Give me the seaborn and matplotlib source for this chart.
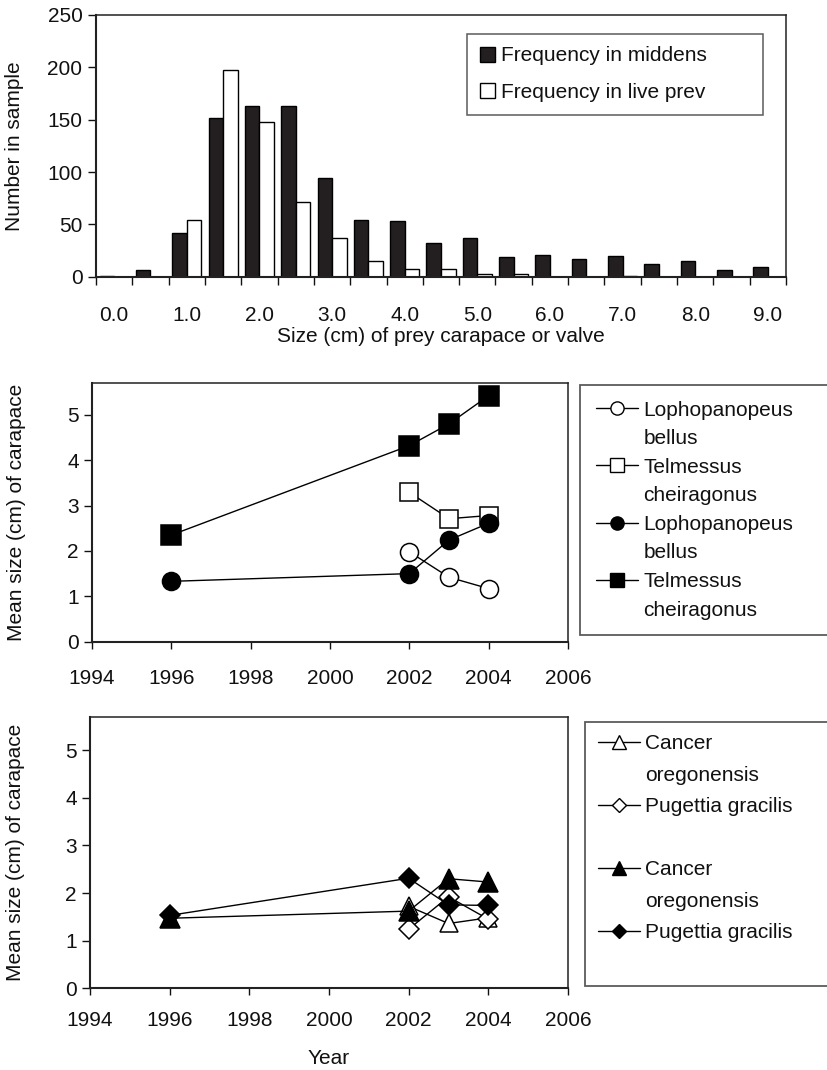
import numpy as np
import pandas as pd
import matplotlib
matplotlib.use("Agg")
import matplotlib.pyplot as plt
from matplotlib.lines import Line2D
from matplotlib.patches import Patch
import seaborn as sns

# ---------------- data ----------------
size_labels = ["0.0", "0.5", "1.0", "1.5", "2.0", "2.5", "3.0", "3.5", "4.0", "4.5",
               "5.0", "5.5", "6.0", "6.5", "7.0", "7.5", "8.0", "8.5", "9.0"]
freq_middens = [1, 6, 42, 152, 163, 163, 94, 54, 53, 32, 37, 19, 21, 17, 20, 12, 15, 6, 9]
freq_live = [0, 0, 54, 197, 148, 71, 37, 15, 7, 7, 3, 3, 0, 0, 1, 0, 0, 0, 0]
bar_series = ["Frequency in middens", "Frequency in live prev"]

# middle panel
lb_open_years = [2002, 2003, 2004]
lb_open = [1.98, 1.42, 1.17]
tc_open_years = [2002, 2003, 2004]
tc_open = [3.29, 2.71, 2.78]
lb_fill_years = [1996, 2002, 2003, 2004]
lb_fill = [1.33, 1.50, 2.24, 2.61]
tc_fill_years = [1996, 2002, 2003, 2004]
tc_fill = [2.35, 4.32, 4.80, 5.42]

# bottom panel
co_open_years = [2002, 2003, 2004]
co_open = [1.72, 1.36, 1.48]
pg_open_years = [2002, 2003, 2004]
pg_open = [1.24, 1.92, 1.45]
co_fill_years = [1996, 2002, 2003, 2004]
co_fill = [1.47, 1.62, 2.30, 2.23]
pg_fill_years = [1996, 2002, 2003, 2004]
pg_fill = [1.53, 2.31, 1.75, 1.74]

year_ticks = [1994, 1996, 1998, 2000, 2002, 2004, 2006]

# ---------------- style ----------------
sns.set_style("ticks")
plt.rcParams["font.family"] = ["Liberation Sans", "DejaVu Sans"]
plt.rcParams["font.size"] = 15
plt.rcParams["axes.linewidth"] = 1.1
plt.rcParams["xtick.major.width"] = 1.0
plt.rcParams["ytick.major.width"] = 1.0
plt.rcParams["xtick.color"] = "#111111"
plt.rcParams["ytick.color"] = "#111111"
plt.rcParams["text.color"] = "#111111"
plt.rcParams["axes.labelcolor"] = "#111111"

W, H = 827, 1070
fig = plt.figure(figsize=(W / 100, H / 100), dpi=100)

def px_axes(left, right, top, bottom):
    return fig.add_axes([left / W, 1 - bottom / H, (right - left) / W, (bottom - top) / H])

ax1 = px_axes(96, 786, 15, 276.7)
ax2 = px_axes(92, 568, 383, 641.7)
ax3 = px_axes(90, 568, 716.7, 988.3)

for ax in (ax1, ax2, ax3):
    for s in ax.spines.values():
        s.set_visible(True)
        s.set_color("#222222")
        s.set_linewidth(1.1)
    ax.spines["left"].set_linewidth(1.5)
    ax.spines["bottom"].set_linewidth(1.5)

# ---------------- top: histogram bars ----------------
df_bar = pd.DataFrame({
    "size": size_labels * 2,
    "count": freq_middens + freq_live,
    "series": [bar_series[0]] * len(size_labels) + [bar_series[1]] * len(size_labels),
})
bar_colors = {bar_series[0]: "#231f20", bar_series[1]: "white"}
sns.barplot(data=df_bar, x="size", y="count", hue="series", order=size_labels,
            hue_order=bar_series, palette=bar_colors, edgecolor="black",
            linewidth=1.0, width=0.8, saturation=1, ax=ax1, legend=False)
ax1.set_xlim(-0.5, len(size_labels) - 0.5)
ax1.set_ylim(0, 250)
ax1.set_yticks([0, 50, 100, 150, 200, 250])
ax1.set_xticks(np.arange(-0.5, len(size_labels), 1.0))
ax1.set_xticklabels([])
ax1.set_xticks(np.arange(0, len(size_labels), 2), minor=True)
ax1.set_xticklabels(size_labels[::2], minor=True)
ax1.tick_params(axis="x", which="major", direction="out", length=5.8, pad=2)
ax1.tick_params(axis="x", which="minor", length=0, pad=21, labelsize=15)
ax1.tick_params(axis="y", direction="out", length=5.8, pad=4, labelsize=15)
ax1.set_ylabel("Number in sample", fontsize=15)
ax1.yaxis.label.set_va("center")
ax1.yaxis.set_label_coords((15 - 96) / 690, 0.5)
ax1.set_xlabel("Size (cm) of prey carapace or valve", fontsize=15)
ax1.xaxis.label.set_va("center")
ax1.xaxis.set_label_coords(0.5, (276.7 - 336) / 261.7)

bar_handles = [Patch(facecolor="#231f20", edgecolor="black", linewidth=1.0),
               Patch(facecolor="white", edgecolor="black", linewidth=1.0)]
leg1 = ax1.legend(bar_handles, bar_series, loc="upper left", mode="expand",
                  bbox_to_anchor=(467 / W, 1 - 34 / H, (763 - 467) / W, 0.0001),
                  bbox_transform=fig.transFigure, frameon=True, fancybox=False,
                  fontsize=15, handlelength=0.72, handleheight=0.72,
                  handletextpad=0.3, borderpad=0.6, labelspacing=0.85,
                  borderaxespad=0)
leg1.get_frame().set_edgecolor("#333333")
leg1.get_frame().set_linewidth(1.1)

# ---------------- line panels ----------------
def draw_series(ax, years, vals, marker, filled, ms):
    sns.lineplot(x=years, y=vals, ax=ax, color="black", linewidth=1.0,
                 marker=marker, markersize=ms,
                 markerfacecolor="black" if filled else "white",
                 markeredgecolor="black", markeredgewidth=1.1,
                 legend=False, estimator=None, sort=True)

draw_series(ax2, lb_open_years, lb_open, "o", False, 13)
draw_series(ax2, tc_open_years, tc_open, "s", False, 13)
draw_series(ax2, lb_fill_years, lb_fill, "o", True, 13)
draw_series(ax2, tc_fill_years, tc_fill, "s", True, 14)

draw_series(ax3, co_open_years, co_open, "^", False, 13)
draw_series(ax3, pg_open_years, pg_open, "D", False, 10)
draw_series(ax3, co_fill_years, co_fill, "^", True, 14)
draw_series(ax3, pg_fill_years, pg_fill, "D", True, 10.5)

for ax in (ax2, ax3):
    ax.set_xlim(1994, 2006)
    ax.set_ylim(0, 5.7)
    ax.set_xticks(year_ticks)
    ax.set_yticks([0, 1, 2, 3, 4, 5])
    ax.tick_params(axis="y", direction="out", length=5.5, pad=4, labelsize=15)
    ax.set_ylabel("Mean size (cm) of carapace", fontsize=15)
    ax.yaxis.label.set_va("center")
    ax.set_xlabel("")

ax2.tick_params(axis="x", direction="out", length=5, pad=15, labelsize=15)
ax3.tick_params(axis="x", direction="out", length=5, pad=11, labelsize=15)
ax2.yaxis.set_label_coords((17 - 92) / 476, 0.5)
ax3.yaxis.set_label_coords((16 - 90) / 478, 0.5)
ax3.set_xlabel("Year", fontsize=15)
ax3.xaxis.label.set_va("center")
ax3.xaxis.set_label_coords(0.5, (988.3 - 1059) / 271.6)

def mk(marker, filled, ms):
    return Line2D([], [], color="black", linewidth=1.0, marker=marker, markersize=ms,
                  markerfacecolor="black" if filled else "white",
                  markeredgecolor="black", markeredgewidth=1.0)

blank = Line2D([], [], color="none", linewidth=0)

h2 = [mk("o", False, 9.5), blank, mk("s", False, 9.5), blank,
      mk("o", True, 9.5), blank, mk("s", True, 10.5), blank]
l2 = ["Lophopanopeus", "bellus", "Telmessus", "cheiragonus",
      "Lophopanopeus", "bellus", "Telmessus", "cheiragonus"]
leg2 = ax2.legend(h2, l2, loc="upper left", mode="expand",
                  bbox_to_anchor=(580 / W, 1 - 385 / H, 300 / W, 0.0001),
                  bbox_transform=fig.transFigure, frameon=True, fancybox=False,
                  fontsize=15, handlelength=2.05, handletextpad=0.25,
                  borderpad=0.75, labelspacing=0.46, borderaxespad=0)
leg2.get_frame().set_edgecolor("#333333")
leg2.get_frame().set_linewidth(1.3)

h3 = [mk("^", False, 10), blank, mk("D", False, 7.5), blank,
      mk("^", True, 10), blank, mk("D", True, 7.5), blank]
l3 = ["Cancer", "oregonensis", "Pugettia gracilis", " ",
      "Cancer", "oregonensis", "Pugettia gracilis", " "]
leg3 = ax3.legend(h3, l3, loc="upper left", mode="expand",
                  bbox_to_anchor=(585 / W, 1 - 721.7 / H, 300 / W, 0.0001),
                  bbox_transform=fig.transFigure, frameon=True, fancybox=False,
                  fontsize=15, handlelength=2.05, handletextpad=0.25,
                  borderpad=0.6, labelspacing=0.6, borderaxespad=0)
leg3.get_frame().set_edgecolor("#333333")
leg3.get_frame().set_linewidth(1.3)

fig.savefig("out.png", dpi=100)
